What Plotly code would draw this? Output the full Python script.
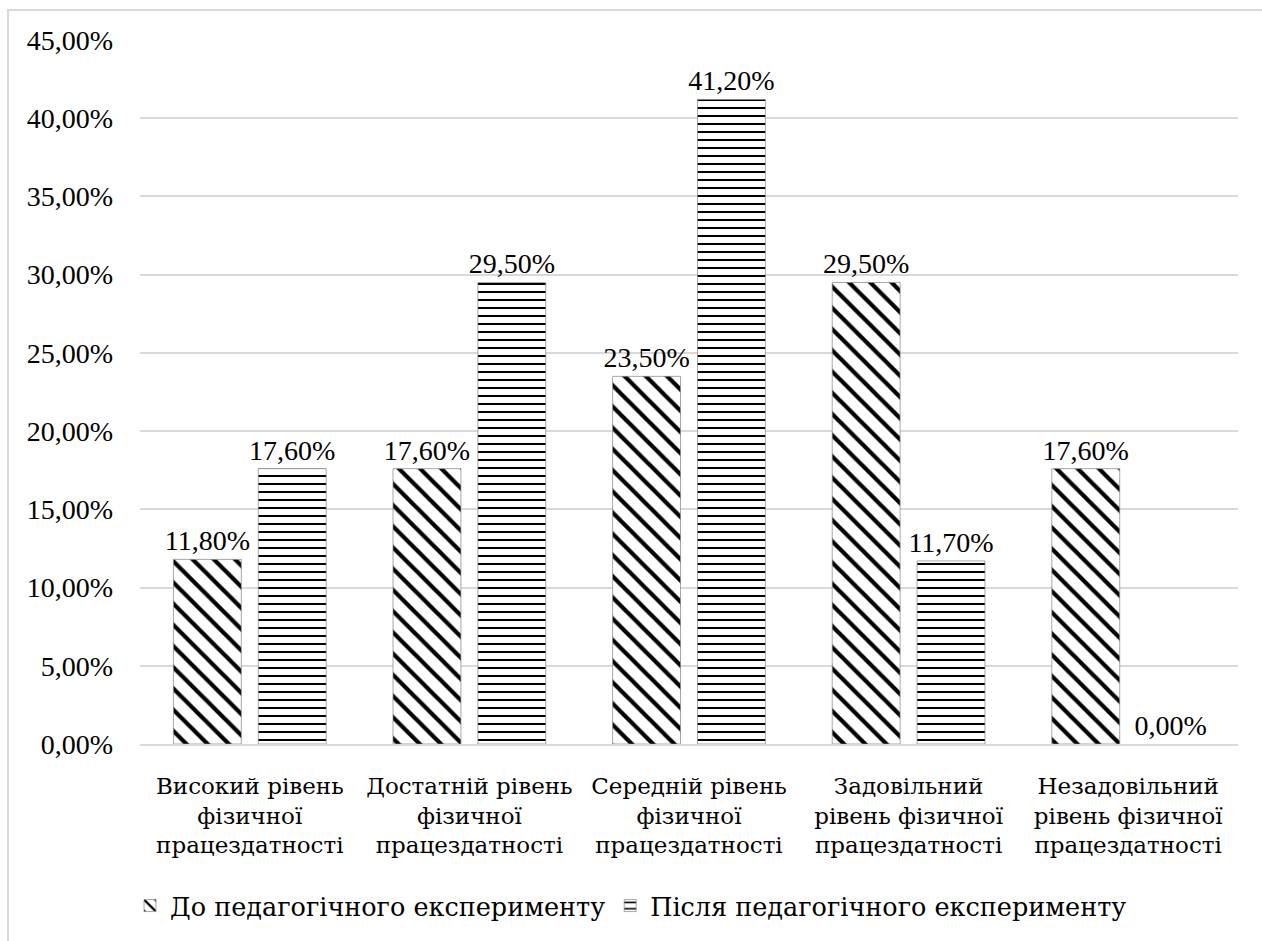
import plotly.graph_objects as go

categories = [
    "Високий рівень<br>фізичної<br>працездатності",
    "Достатній рівень<br>фізичної<br>працездатності",
    "Середній рівень<br>фізичної<br>працездатності",
    "Задовільний<br>рівень фізичної<br>працездатності",
    "Незадовільний<br>рівень фізичної<br>працездатності",
]
before_values = [0.118, 0.176, 0.235, 0.295, 0.176]
after_values = [0.176, 0.295, 0.412, 0.117, 0.0]
series_names = ["До педагогічного експерименту", "Після педагогічного експерименту"]

FONT = "Times New Roman"
CYR_FONT = "DejaVu Serif"
W, H = 1262, 941
ML, MR, MT, MB = 140, 24, 40, 197


def line_widths(values):
    # no outline on empty bars
    return [1 if v > 0 else 0 for v in values]


fig = go.Figure()
fig.add_trace(go.Bar(
    x=categories, y=before_values, name=series_names[0],
    marker=dict(
        color="white",
        line=dict(color="rgba(130,130,130,0.7)", width=line_widths(before_values)),
        pattern=dict(shape="\\", fgcolor="#000000", fgopacity=1, bgcolor="white",
                     size=15, solidity=0.28),
    ),
    texttemplate="%{y:.2%}", textposition="outside", constraintext="none",
    textfont=dict(family=FONT, size=28, color="black"),
    cliponaxis=False,
))
fig.add_trace(go.Bar(
    x=categories, y=after_values, name=series_names[1],
    marker=dict(
        color="white",
        line=dict(color="rgba(130,130,130,0.7)", width=line_widths(after_values)),
        pattern=dict(shape="-", fgcolor="#000000", fgopacity=1, bgcolor="white",
                     size=8, solidity=0.25),
    ),
    texttemplate="%{y:.2%}", textposition="outside", constraintext="none",
    textfont=dict(family=FONT, size=28, color="black"),
    cliponaxis=False,
))

pw = W - ML - MR
ph = H - MT - MB
# light outer frame around the chart area
fig.add_shape(
    type="rect", xref="paper", yref="paper",
    x0=(8 - ML) / pw, x1=(W + 5 - ML) / pw,
    y0=-(H + 5 - MT - ph) / ph, y1=1 + (MT - 10) / ph,
    line=dict(color="#d9d9d9", width=2), fillcolor="rgba(0,0,0,0)", layer="below",
)

fig.update_layout(
    width=W, height=H,
    margin=dict(l=ML, r=MR, t=MT, b=MB, autoexpand=False),
    paper_bgcolor="white", plot_bgcolor="white",
    separators=", ",
    barmode="group", bargap=0.227, bargroupgap=0.2,
    font=dict(family=FONT, color="black"),
    showlegend=True,
    legend=dict(
        orientation="h",
        xref="container", x=130 / W, xanchor="left",
        yref="container", y=1 - 906 / H, yanchor="middle",
        font=dict(family=CYR_FONT, size=25.5, color="black"),
        itemwidth=30,
    ),
    yaxis=dict(
        range=[0, 0.45], dtick=0.05, tickformat=".2%",
        showgrid=True, gridcolor="#d9d9d9", gridwidth=2,
        zeroline=False, showline=False, automargin=False,
        tickfont=dict(family=FONT, size=28, color="black"),
        ticks="", ticklabelstandoff=26,
    ),
    xaxis=dict(
        showline=True, linecolor="#d9d9d9", linewidth=2, automargin=False,
        tickfont=dict(family=CYR_FONT, size=23, color="black"),
        ticks="", ticklabelstandoff=20,
    ),
)

fig.write_html("out.html")
